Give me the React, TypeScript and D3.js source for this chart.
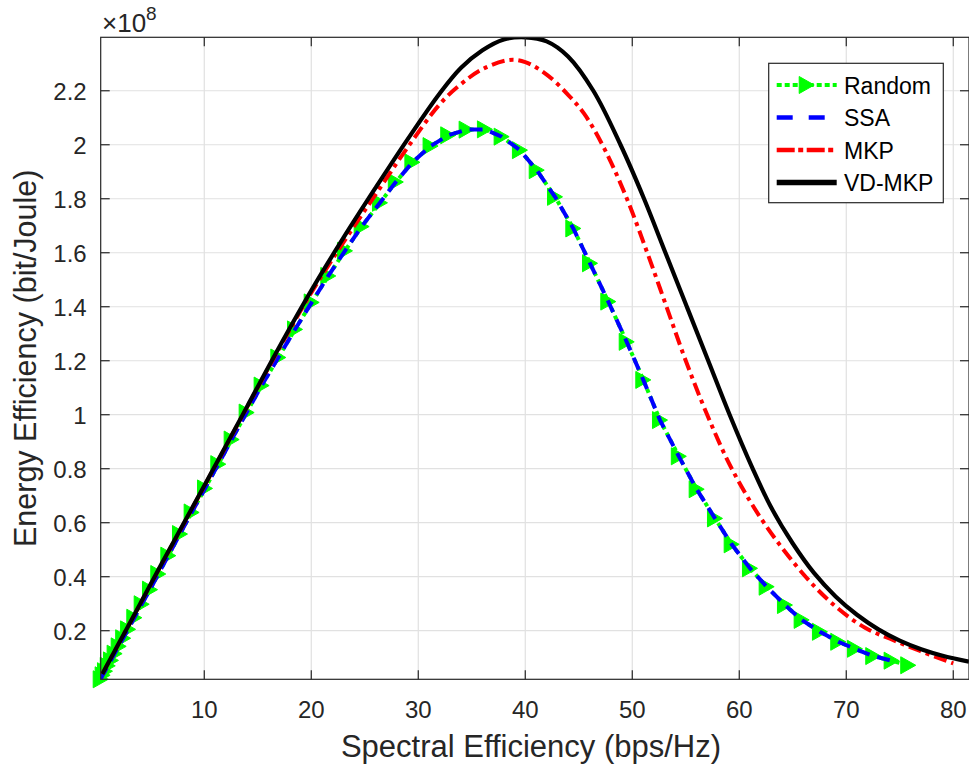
import React from 'react';
import * as d3 from 'd3';

// ---- Data (Energy efficiency in units of 1e8 bit/Joule) ----
const randomX = [0.32, 0.5, 0.72, 0.98, 1.28, 1.62, 2.0, 2.42, 2.88, 3.46, 4.15, 4.93, 5.7, 6.64, 7.73, 8.82, 10.07, 11.31, 12.56, 13.96, 15.36, 16.92, 18.48, 20.04, 21.59, 23.15, 24.71, 26.42, 27.9, 29.45, 31.15, 32.8, 34.52, 36.23, 37.79, 39.5, 41.07, 42.78, 44.49, 46.05, 47.76, 49.48, 51.03, 52.59, 54.35, 56.02, 57.73, 59.29, 61.0, 62.56, 64.27, 65.83, 67.54, 69.25, 70.81, 72.52, 74.24, 75.79];
const randomY = [0.02, 0.035, 0.05, 0.07, 0.09, 0.115, 0.142, 0.172, 0.205, 0.248, 0.298, 0.352, 0.41, 0.478, 0.558, 0.638, 0.727, 0.817, 0.908, 1.008, 1.108, 1.212, 1.316, 1.416, 1.514, 1.607, 1.697, 1.785, 1.862, 1.935, 1.995, 2.035, 2.056, 2.057, 2.03, 1.98, 1.906, 1.807, 1.69, 1.561, 1.419, 1.27, 1.129, 0.98, 0.846, 0.724, 0.616, 0.52, 0.431, 0.363, 0.295, 0.24, 0.196, 0.159, 0.133, 0.106, 0.089, 0.072];

const ssaX = [0.32, 0.5, 0.72, 0.98, 1.28, 1.62, 2.0, 2.42, 2.88, 3.46, 4.15, 4.93, 5.7, 6.64, 7.73, 8.82, 10.07, 11.31, 12.56, 13.96, 15.36, 16.92, 18.48, 20.04, 21.59, 23.15, 24.71, 26.42, 27.9, 29.45, 31.15, 32.8, 34.52, 36.23, 37.79, 39.5, 41.07, 42.78, 44.49, 46.05, 47.76, 49.48, 51.03, 52.59, 54.35, 56.02, 57.73, 59.29, 61.0, 62.56, 64.27, 65.83, 67.54, 69.25, 70.81, 72.52, 74.24];
const ssaY = [0.02, 0.035, 0.05, 0.07, 0.09, 0.115, 0.142, 0.172, 0.205, 0.248, 0.298, 0.352, 0.41, 0.478, 0.558, 0.638, 0.727, 0.817, 0.908, 1.008, 1.108, 1.212, 1.316, 1.416, 1.514, 1.607, 1.697, 1.785, 1.862, 1.935, 1.995, 2.035, 2.056, 2.057, 2.03, 1.98, 1.906, 1.807, 1.69, 1.561, 1.419, 1.27, 1.129, 0.98, 0.846, 0.724, 0.616, 0.52, 0.431, 0.363, 0.295, 0.24, 0.196, 0.159, 0.133, 0.106, 0.089];

const mkpX = [0.47, 3, 6, 10, 14, 17, 20, 23, 26, 29, 32, 34, 36, 38.5, 40, 42, 44, 45.5, 47.4, 49.5, 51.4, 53.2, 55.0, 57.0, 59.3, 62.3, 66.2, 69, 71.8, 74.4, 76.9, 80];
const mkpY = [0.04, 0.225, 0.445, 0.735, 1.028, 1.245, 1.452, 1.638, 1.815, 1.99, 2.15, 2.225, 2.28, 2.314, 2.306, 2.26, 2.185, 2.115, 1.985, 1.8, 1.6, 1.4, 1.2, 1.0, 0.8, 0.6, 0.4, 0.29, 0.21, 0.165, 0.125, 0.079];

const vdX = [0.47, 3, 6, 10, 14, 17, 20, 23, 26, 29, 32, 34, 36, 38, 40, 42, 44, 46.36, 48.9, 51.1, 53.1, 55.1, 57.1, 59.1, 61.2, 63, 65, 67, 69, 71, 73, 75, 77, 79, 81.47];
const vdY = [0.04, 0.225, 0.447, 0.737, 1.03, 1.25, 1.46, 1.655, 1.84, 2.02, 2.19, 2.285, 2.35, 2.39, 2.398, 2.383, 2.327, 2.2, 2.0, 1.8, 1.6, 1.4, 1.2, 1.0, 0.805, 0.655, 0.523, 0.413, 0.327, 0.259, 0.205, 0.163, 0.131, 0.107, 0.085];

const xTicks = [10, 20, 30, 40, 50, 60, 70, 80];
const yTicks = [0.2, 0.4, 0.6, 0.8, 1, 1.2, 1.4, 1.6, 1.8, 2, 2.2];
const yTickLabels = ['0.2', '0.4', '0.6', '0.8', '1', '1.2', '1.4', '1.6', '1.8', '2', '2.2'];
const legendLabels = ['Random', 'SSA', 'MKP', 'VD-MKP'];

const W = 969;
const H = 770;
const L = 100.7, R = 969, T = 37.3, B = 679.3;
const FONT = "'Liberation Sans', Arial, Helvetica, sans-serif";
const AX = '#262626';
const GRID = '#e1e1e1';

const x = d3.scaleLinear().domain([0.32, 81.47]).range([L, R]);
const y = d3.scaleLinear().domain([0.02, 2.398]).range([B, T]);

const zip = (xs: number[], ys: number[]) => xs.map((v, i) => [v, ys[i]] as [number, number]);

const linearLine = d3.line<[number, number]>().x(d => x(d[0])).y(d => y(d[1]));
const smoothLine = d3.line<[number, number]>().x(d => x(d[0])).y(d => y(d[1])).curve(d3.curveCatmullRom.alpha(0.5));

const tri = (cx: number, cy: number) => `M${cx - 7.5},${cy - 8.5}L${cx + 7.5},${cy}L${cx - 7.5},${cy + 8.5}Z`;

export default function App() {
  const randomData = zip(randomX, randomY);
  const ssaData = zip(ssaX, ssaY);
  const mkpData = zip(mkpX, mkpY);
  const vdData = zip(vdX, vdY);

  const legendX0 = 776.7, legendX1 = 836.7;
  const legendYs = [85, 117.5, 150, 182.5];

  return (
    <svg width={W} height={H} style={{ position: 'absolute', left: 0, top: 0, background: '#fff' }} fontFamily={FONT}>
      <defs>
        <clipPath id="plotClip">
          <rect x={L} y={T} width={R - L} height={B - T} />
        </clipPath>
      </defs>
      <rect x={0} y={0} width={W} height={H} fill="#fff" />
      {/* grid */}
      {xTicks.map(t => (
        <line key={'gx' + t} x1={x(t)} x2={x(t)} y1={T} y2={B} stroke={GRID} strokeWidth={1.2} />
      ))}
      {yTicks.map(t => (
        <line key={'gy' + t} x1={L} x2={R} y1={y(t)} y2={y(t)} stroke={GRID} strokeWidth={1.2} />
      ))}

      {/* series */}
      <g clipPath="url(#plotClip)">
        <path d={linearLine(randomData) || ''} fill="none" stroke="#00ff00" strokeWidth={4} strokeDasharray="4,4" />
      </g>
      {randomData.map((d, i) => (
        <path key={'m' + i} d={tri(x(d[0]), y(d[1]))} fill="#00ff00" stroke="#00ff00" strokeWidth={1} />
      ))}
      <g clipPath="url(#plotClip)">
        <path d={linearLine(ssaData) || ''} fill="none" stroke="#0000ff" strokeWidth={4} strokeDasharray="13,8" />
        <path d={smoothLine(mkpData) || ''} fill="none" stroke="#ff0000" strokeWidth={4} strokeDasharray="13,5,4,5" />
        <path d={smoothLine(vdData) || ''} fill="none" stroke="#000000" strokeWidth={4.2} />
      </g>

      {/* axes box */}
      <rect x={L} y={T} width={R - L} height={B - T} fill="none" stroke={AX} strokeWidth={1.2} />
      {xTicks.map(t => (
        <g key={'xt' + t}>
          <line x1={x(t)} x2={x(t)} y1={B} y2={B - 9} stroke={AX} strokeWidth={1.2} />
          <line x1={x(t)} x2={x(t)} y1={T} y2={T + 9} stroke={AX} strokeWidth={1.2} />
          <text x={x(t)} y={B + 39} textAnchor="middle" fontSize={24} fill={AX}>{t}</text>
        </g>
      ))}
      {yTicks.map((t, i) => (
        <g key={'yt' + t}>
          <line x1={L} x2={L + 9} y1={y(t)} y2={y(t)} stroke={AX} strokeWidth={1.2} />
          <line x1={R} x2={R - 9} y1={y(t)} y2={y(t)} stroke={AX} strokeWidth={1.2} />
          <text x={L - 14} y={y(t) + 9} textAnchor="end" fontSize={24} fill={AX}>{yTickLabels[i]}</text>
        </g>
      ))}

      {/* exponent */}
      <text x={102} y={32} fontSize={26} fill={AX}>
        <tspan>×10</tspan>
        <tspan fontSize={19} dy={-12}>8</tspan>
      </text>

      {/* axis labels */}
      <text x={531} y={757} textAnchor="middle" fontSize={31} fill={AX}>Spectral Efficiency (bps/Hz)</text>
      <text transform={`translate(36,${(T + B) / 2}) rotate(-90)`} textAnchor="middle" fontSize={30.5} fill={AX}>Energy Efficiency (bit/Joule)</text>

      {/* legend */}
      <rect x={768.7} y={63.3} width={174.6} height={139.4} fill="#fff" stroke={AX} strokeWidth={1.2} />
      <line x1={legendX0} x2={legendX1} y1={legendYs[0]} y2={legendYs[0]} stroke="#00ff00" strokeWidth={4} strokeDasharray="5,3" />
      <path d={tri((legendX0 + legendX1) / 2, legendYs[0])} fill="#00ff00" stroke="#00ff00" strokeWidth={1} />
      <line x1={legendX0} x2={legendX1} y1={legendYs[1]} y2={legendYs[1]} stroke="#0000ff" strokeWidth={4.5} strokeDasharray="16,16" />
      <line x1={legendX0} x2={legendX1} y1={legendYs[2]} y2={legendYs[2]} stroke="#ff0000" strokeWidth={4.5} strokeDasharray="18,3.5,5,3.5" />
      <line x1={legendX0} x2={legendX1} y1={legendYs[3]} y2={legendYs[3]} stroke="#000000" strokeWidth={5.5} />
      {legendLabels.map((lab, i) => (
        <text key={lab} x={844} y={legendYs[i] + 8.5} fontSize={23} fill="#000">{lab}</text>
      ))}
    </svg>
  );
}
